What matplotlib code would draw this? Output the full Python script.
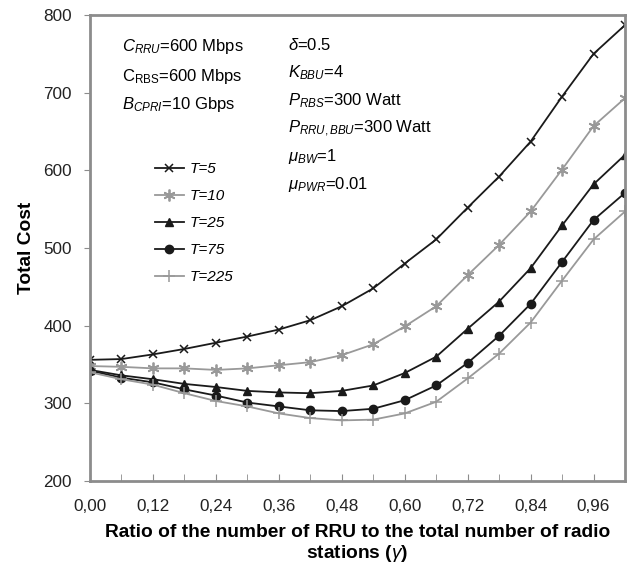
import numpy as np
import matplotlib
matplotlib.use('Agg')
import matplotlib.pyplot as plt

plt.rcParams['font.family'] = ['Liberation Sans', 'DejaVu Sans']
plt.rcParams['mathtext.fontset'] = 'custom'
plt.rcParams['mathtext.rm'] = 'Liberation Sans'
plt.rcParams['mathtext.it'] = 'Liberation Sans:italic'
plt.rcParams['mathtext.bf'] = 'Liberation Sans:bold'

# ratio gamma, one point every 0.06
gamma = [0.00, 0.06, 0.12, 0.18, 0.24, 0.30, 0.36, 0.42, 0.48,
         0.54, 0.60, 0.66, 0.72, 0.78, 0.84, 0.90, 0.96, 1.02]

cost_t5 = [356, 357, 363, 370, 378, 386, 395, 407, 425,
           448, 480, 511, 552, 592, 637, 695, 750, 787]
cost_t10 = [348, 347, 345, 345, 343, 345, 349, 353, 362,
            376, 399, 425, 465, 504, 547, 601, 657, 693]
cost_t25 = [343, 336, 331, 325, 321, 316, 314, 313, 316,
            323, 339, 360, 396, 431, 474, 529, 582, 620]
cost_t75 = [342, 333, 327, 318, 310, 301, 296, 291, 290,
            293, 304, 323, 352, 387, 428, 482, 536, 571]
cost_t225 = [340, 331, 324, 313, 303, 296, 287, 281, 278,
             279, 287, 302, 332, 364, 404, 458, 511, 547]

series_labels = ['T=5', 'T=10', 'T=25', 'T=75', 'T=225']
x_tick_labels = ['0,00', '0,12', '0,24', '0,36', '0,48', '0,60', '0,72', '0,84', '0,96']

BLACK = '#1a1a1a'
GRAY = '#999999'


def main():
    fig = plt.figure(figsize=(6.36, 5.66), dpi=100)
    ax = fig.add_axes([0.1415, 0.1502, 0.8412, 0.8233])

    series = [cost_t5, cost_t10, cost_t25, cost_t75, cost_t225]
    styles = [
        dict(color=BLACK, marker='x', ms=6, mew=1.1),
        dict(color=GRAY, marker=(6, 2, 0), ms=8.5, mew=1.3),
        dict(color=BLACK, marker='^', ms=5.5, mew=1),
        dict(color=BLACK, marker='o', ms=6, mew=1),
        dict(color=GRAY, marker='+', ms=9, mew=1.1),
    ]
    for values, label, style in zip(series, series_labels, styles):
        ax.plot(gamma, values, lw=1.3, label=label, **style)

    ax.set_xlim(0, 1.02)
    ax.set_ylim(200, 800)
    ax.set_yticks(np.arange(200, 801, 100))
    ax.set_xticks(np.arange(0, 1.0, 0.06), minor=True)
    ax.set_xticks(np.arange(0, 9) * 0.12)
    ax.set_xticklabels(x_tick_labels)

    for spine in ax.spines.values():
        spine.set_color('#8c8c8c')
        spine.set_linewidth(2)
    ax.tick_params(axis='x', which='both', direction='in', length=5,
                   color='#8c8c8c', labelsize=12.3, labelcolor='#222222', pad=13)
    ax.tick_params(axis='y', direction='out', length=4, color='#8c8c8c',
                   labelsize=12.3, labelcolor='#222222', pad=9)

    ax.set_ylabel('Total Cost', fontsize=13.8, fontweight='bold', labelpad=6)
    ax.set_xlabel('Ratio of the number of RRU to the total number of radio\n'
                  'stations ($\\gamma$)', fontsize=13.8, fontweight='bold',
                  labelpad=7, linespacing=1.12)

    # parameter annotations
    left_texts = [r'$C_{RRU}$=600 Mbps', r'$\mathrm{C_{RBS}}$=600 Mbps',
                  r'$B_{CPRI}$=10 Gbps']
    right_texts = [r'$\delta$=0.5', r'$K_{BBU}$=4', r'$P_{RBS}$=300 Watt',
                   r'$P_{RRU,BBU}$=300 Watt', r'$\mu_{BW}$=1',
                   r'$\mu_{PWR}$=0.01']
    for i, txt in enumerate(left_texts):
        fig.text(122 / 636, 1 - (47 + i * 29) / 566, txt, fontsize=12,
                 va='center', ha='left')
    for i, txt in enumerate(right_texts):
        fig.text(288 / 636, 1 - (45 + i * 28) / 566, txt, fontsize=12,
                 va='center', ha='left')

    ax.legend(loc='upper left', bbox_to_anchor=(0.095, 0.714),
              frameon=False, prop={'size': 11, 'style': 'italic'},
              handlelength=1.9, labelspacing=0.85, handletextpad=0.4)

    fig.savefig('out.png', dpi=100)


if __name__ == '__main__':
    main()
